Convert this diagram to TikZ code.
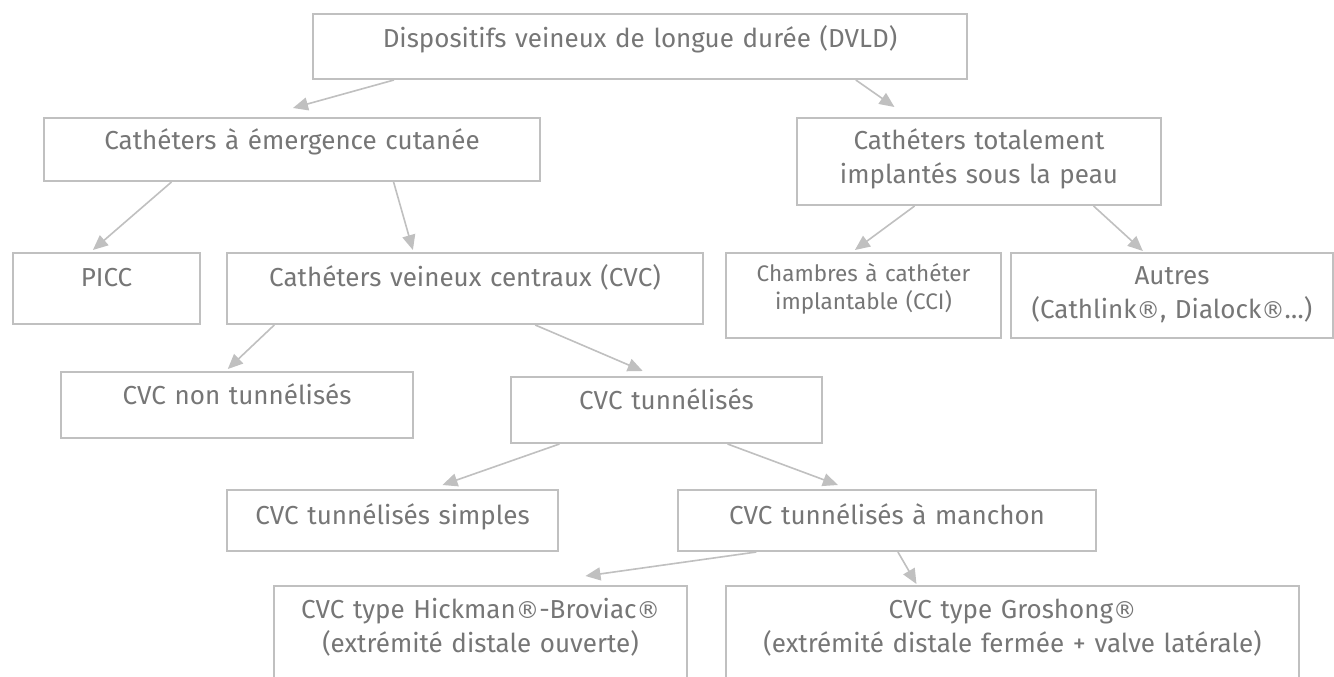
\documentclass[tikz,border=0pt]{standalone}
\usepackage{fontspec}
\setmainfont{Fira Sans}
\newfontfamily\regfont{DejaVu Sans}
\newcommand{\reg}{{\regfont\fontsize{0.9em}{0pt}\selectfont ®}}
\usetikzlibrary{arrows.meta,calc}
\definecolor{txtgray}{RGB}{118,118,118}
\definecolor{linegray}{RGB}{192,192,192}
\begin{document}
\begin{tikzpicture}[x=1pt,y=-1pt,
  box/.style={draw=linegray,line width=2pt,inner sep=0pt,anchor=north,align=center,
    text=txtgray,font=\fontsize{26}{34}\selectfont},
  small/.style={font=\fontsize{22.5}{28}\selectfont},
  conn/.style={draw=linegray,line width=1.6pt,-{Triangle[length=15pt,width=13pt]}}]
\clip (0,0) rectangle (1334,677);
\fill[white] (0,0) rectangle (1334,677);

\node[box,text width=654pt,text height=34pt,text depth=31pt] (dvld) at (640,13) {Dispositifs veineux de longue durée (DVLD)};
\node[box,text width=496pt,text height=31pt,text depth=32pt] (emerg) at (292,117) {Cathéters à émergence cutanée};
\node[box,text width=364pt,text height=31pt,text depth=56pt] (total) at (979,117) {Cathéters totalement\\implantés sous la peau};
\node[box,text width=187pt,text height=33pt,text depth=38pt] (picc) at (106.5,252) {PICC};
\node[box,text width=476pt,text height=33pt,text depth=38pt] (cvc) at (465,252) {Cathéters veineux centraux (CVC)};
\node[box,small,text width=275pt,text height=28pt,text depth=57pt] (cci) at (863.5,252) {Chambres à cathéter\\implantable (CCI)};
\node[box,text width=322pt,text height=31pt,text depth=54pt] (autres) at (1172,252) {Autres\\(Cathlink\reg, Dialock\reg…)};
\node[box,text width=352pt,text height=32pt,text depth=34pt] (nontun) at (237,371) {CVC non tunnélisés};
\node[box,text width=311pt,text height=32pt,text depth=34pt] (tun) at (666.5,376) {CVC tunnélisés};
\node[box,text width=331pt,text height=34pt,text depth=27pt] (simples) at (392.5,489) {CVC tunnélisés simples};
\node[box,text width=418pt,text height=34pt,text depth=27pt] (manchon) at (887,489) {CVC tunnélisés à manchon};
\node[box,text width=413pt,text height=32pt,text depth=88pt] (hickman) at (480.5,585) {CVC type Hickman\reg-Broviac\reg\\(extrémité distale ouverte)};
\node[box,text width=573pt,text height=32pt,text depth=88pt] (groshong) at (1012.5,585) {CVC type Groshong\reg\\(extrémité distale fermée + valve latérale)};

\draw[conn] ($(dvld.south west)!0.125!(dvld.south east)$) -- ($(emerg.north west)!0.502!(emerg.north east)+(0,-9)$);
\draw[conn] ($(dvld.south west)!0.829!(dvld.south east)$) -- ($(total.north west)!0.269!(total.north east)+(0,-10)$);
\draw[conn] ($(emerg.south west)!0.258!(emerg.south east)$) -- ($(picc.north west)!0.428!(picc.north east)+(0,-2)$);
\draw[conn] ($(emerg.south west)!0.704!(emerg.south east)$) -- ($(cvc.north west)!0.391!(cvc.north east)+(0,-2)$);
\draw[conn] ($(total.south west)!0.324!(total.south east)$) -- ($(cci.north west)!0.469!(cci.north east)+(0,-2)$);
\draw[conn] ($(total.south west)!0.813!(total.south east)$) -- ($(autres.north west)!0.410!(autres.north east)+(0,-1)$);
\draw[conn] ($(cvc.south west)!0.101!(cvc.south east)$) -- ($(nontun.north west)!0.474!(nontun.north east)+(0,-2)$);
\draw[conn] ($(cvc.south west)!0.647!(cvc.south east)$) -- ($(tun.north west)!0.424!(tun.north east)+(0,-5)$);
\draw[conn] ($(tun.south west)!0.158!(tun.south east)$) -- ($(simples.north west)!0.650!(simples.north east)+(0,-4)$);
\draw[conn] ($(tun.south west)!0.695!(tun.south east)$) -- ($(manchon.north west)!0.383!(manchon.north east)+(0,-4)$);
\draw[conn] ($(manchon.south west)!0.189!(manchon.south east)$) -- ($(hickman.north west)!0.753!(hickman.north east)+(0,-9)$);
\draw[conn] ($(manchon.south west)!0.526!(manchon.south east)$) -- ($(groshong.north west)!0.333!(groshong.north east)+(0,-1)$);
\end{tikzpicture}
\end{document}
